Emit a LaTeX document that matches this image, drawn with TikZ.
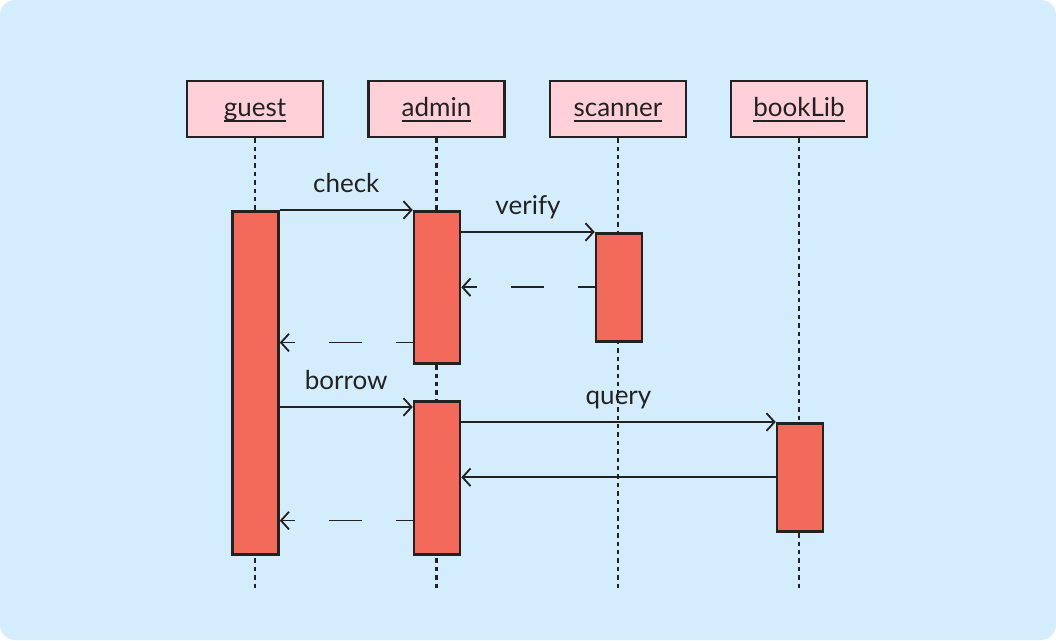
\documentclass[tikz,border=0pt]{standalone}
\usepackage{fontspec}
\setmainfont{Lato}
\usetikzlibrary{positioning,arrows.meta}
\definecolor{bgblue}{HTML}{D4EDFD}
\definecolor{headpink}{HTML}{FFD0D8}
\definecolor{barred}{HTML}{F46A5A}
\definecolor{inkdark}{HTML}{222222}
\newcommand{\ulname}[1]{\setbox0=\hbox{#1}\copy0\llap{\rule[-0.2em]{\wd0}{0.06em}}}

\begin{document}
\begin{tikzpicture}[x=0.025cm, y=-0.025cm,
                    headnode/.style={rectangle, draw=inkdark, line width=1.8pt, fill=headpink, minimum width=3.4cm, minimum height=1.4cm, font=\fontsize{18.5}{22}\selectfont, text=inkdark, text height=14pt, text depth=3.5pt},
                    barnode/.style={rectangle, draw=inkdark, line width=1.8pt, fill=barred, minimum width=1.15cm, anchor=north},
                    lifeline/.style={inkdark, line width=1.6pt, dash pattern=on 0.11cm off 0.1cm},
                    msg/.style={inkdark, line width=1.3pt, -{Straight Barb[length=2mm, width=4.4mm]}},
                    ret/.style={msg, dash pattern=on 0.825cm off 0.85cm, dash phase=0.41cm},
                    lbl/.style={font=\fontsize{18.5}{22}\selectfont, text=inkdark, inner sep=0pt, anchor=base, yshift=0.45cm}]
                \fill[bgblue, rounded corners=0.375cm] (0,0) rectangle (1056,640);
                \useasboundingbox (0,0) rectangle (1056,640);
                % participants
                \node[headnode] (guest) at (255,109) {\ulname{guest}};
                \node[headnode] (admin) at (436.5,109) {\ulname{admin}};
                \node[headnode] (scanner) at (618,109) {\ulname{scanner}};
                \node[headnode] (booklib) at (799,109) {\ulname{bookLib}};
                \coordinate (gend) at (257,592);
                \coordinate (aend) at (439,592);
                \coordinate (send) at (620,592);
                \coordinate (bend) at (801,592);
                \draw[lifeline] (guest.south) -- (guest.south |- gend);
                \draw[lifeline] (admin.south) -- (admin.south |- aend);
                \draw[lifeline] (scanner.south) -- (scanner.south |- send);
                \draw[lifeline] (booklib.south) -- (booklib.south |- bend);
                % activations
                \node[barnode, minimum height=8.575cm] (g1) at (255.5,210) {};
                \node[barnode, minimum height=3.8cm] (a1) at (437,210) {};
                \node[barnode, minimum height=2.7cm] (s1) at (619,232) {};
                \node[barnode, minimum height=3.825cm] (a2) at (437,400) {};
                \node[barnode, minimum height=2.7cm] (b1) at (800,422) {};
                % messages
                \draw[msg] (g1.north east) -- node[lbl] {check} (a1.north west);
                \draw[msg] (a1.east |- s1.north) -- node[lbl] {verify} (s1.north west);
                \draw[ret] (s1.west) -- (a1.east |- s1.west);
                \draw[ret] (a1.west |- s1.south) -- (g1.east |- s1.south);
                \coordinate (bq) at ([yshift=-0.175cm]a2.north west);
                \draw[msg] (g1.east |- bq) -- node[lbl] {borrow} (bq);
                \draw[msg] (a2.east |- b1.north) -- node[lbl] {query} (b1.north west);
                \draw[msg] (b1.west) -- (a2.east |- b1.west);
                \coordinate (rb) at ([yshift=0.875cm]a2.south west);
                \draw[ret] (rb) -- (g1.east |- rb);
            \end{tikzpicture}
\end{document}
